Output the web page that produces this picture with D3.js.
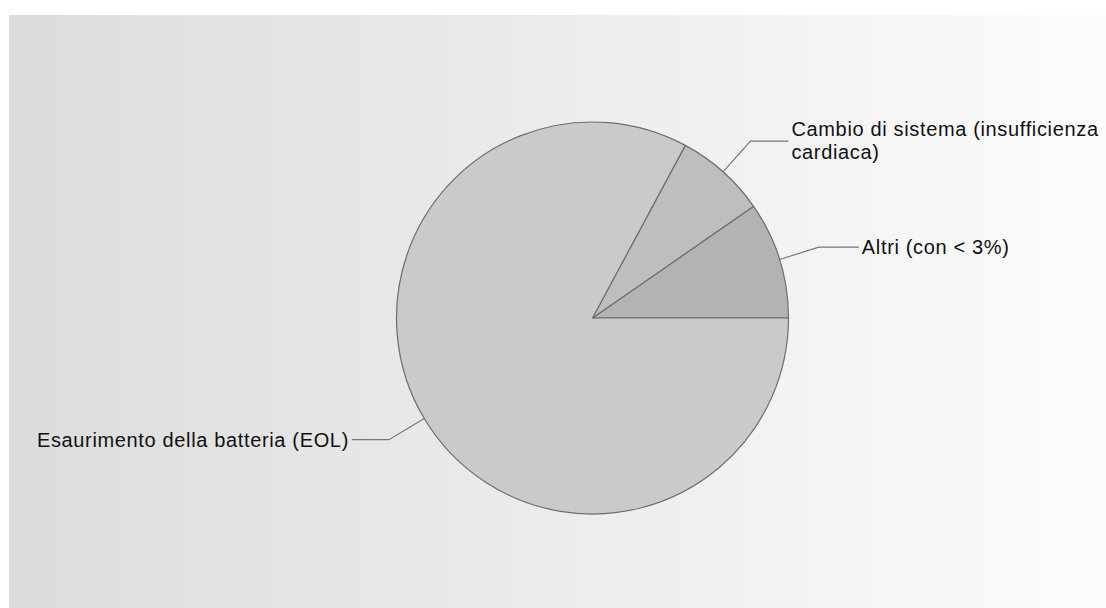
<!DOCTYPE html>
<html>
<head>
<meta charset="utf-8">
<script src="https://cdn.jsdelivr.net/npm/d3@7"></script>
<style>
html,body{margin:0;padding:0;background:#fff;}
svg{display:block;}
text{font-family:Arial,"Liberation Sans",sans-serif;}
</style>
</head>
<body>
<script>
// Data (slices counter-clockwise from 3 o'clock)
const categories = ["Altri (con < 3%)", "Cambio di sistema (insufficienza cardiaca)", "Esaurimento della batteria (EOL)"];
const labelLines = [["Altri (con < 3%)"], ["Cambio di sistema (insufficienza", "cardiaca)"], ["Esaurimento della batteria (EOL)"]];
const values = [9.65, 7.5, 82.85];
const colors = ["#b3b3b3", "#bebebe", "#cacaca"];

const W = 1106, H = 608;
const svg = d3.select("body").append("svg").attr("width", W).attr("height", H);

const defs = svg.append("defs");
const grad = defs.append("linearGradient").attr("id", "bg").attr("x1", "0").attr("x2", "1").attr("y1", "0").attr("y2", "0");
grad.append("stop").attr("offset", "0").attr("stop-color", "#dcdcdc");
grad.append("stop").attr("offset", "1").attr("stop-color", "#fcfcfc");

svg.append("rect").attr("x", 9).attr("y", 15).attr("width", W - 9).attr("height", H - 15).attr("fill", "url(#bg)");

const cx = 592.5, cy = 318, r = 196;
const g = svg.append("g").attr("transform", `translate(${cx},${cy})`);

const pie = d3.pie().sort(null).value(d => d).startAngle(Math.PI / 2).endAngle(Math.PI / 2 - 2 * Math.PI);
const arcs = pie(values);
const arc = d3.arc().innerRadius(0).outerRadius(r);

g.selectAll("path.slice").data(arcs).enter().append("path")
  .attr("class", "slice")
  .attr("d", arc)
  .attr("fill", (d, i) => colors[i])
  .attr("stroke", "#6e6e6e")
  .attr("stroke-width", 1.2)
  .attr("stroke-linejoin", "round");

// Leader lines + labels
const hLen = [40, 38, 37];
arcs.forEach((d, i) => {
  const mid = (d.startAngle + d.endAngle) / 2;
  const sx = Math.sin(mid), sy = -Math.cos(mid);
  const p0 = [sx * r, sy * r];
  const p1 = [sx * r * 1.21, sy * r * 1.21];
  const right = sx > 0;
  const p2 = [p1[0] + (right ? hLen[i] : -hLen[i]), p1[1]];
  g.append("polyline")
    .attr("points", [p0, p1, p2].map(p => p.join(",")).join(" "))
    .attr("fill", "none")
    .attr("stroke", "#777")
    .attr("stroke-width", 1.2);
  const lines = labelLines[i];
  const t = g.append("text")
    .attr("x", p2[0] + (right ? 3 : -3))
    .attr("text-anchor", right ? "start" : "end")
    .attr("font-size", 20)
    .attr("letter-spacing", 0.65)
    .attr("fill", "#111");
  const y0 = lines.length > 1 ? p2[1] - 5 : p2[1] + 7;
  lines.forEach((ln, k) => {
    t.append("tspan").attr("x", p2[0] + (right ? 3 : -3)).attr("y", y0 + k * 23).text(ln);
  });
});
</script>
</body>
</html>
